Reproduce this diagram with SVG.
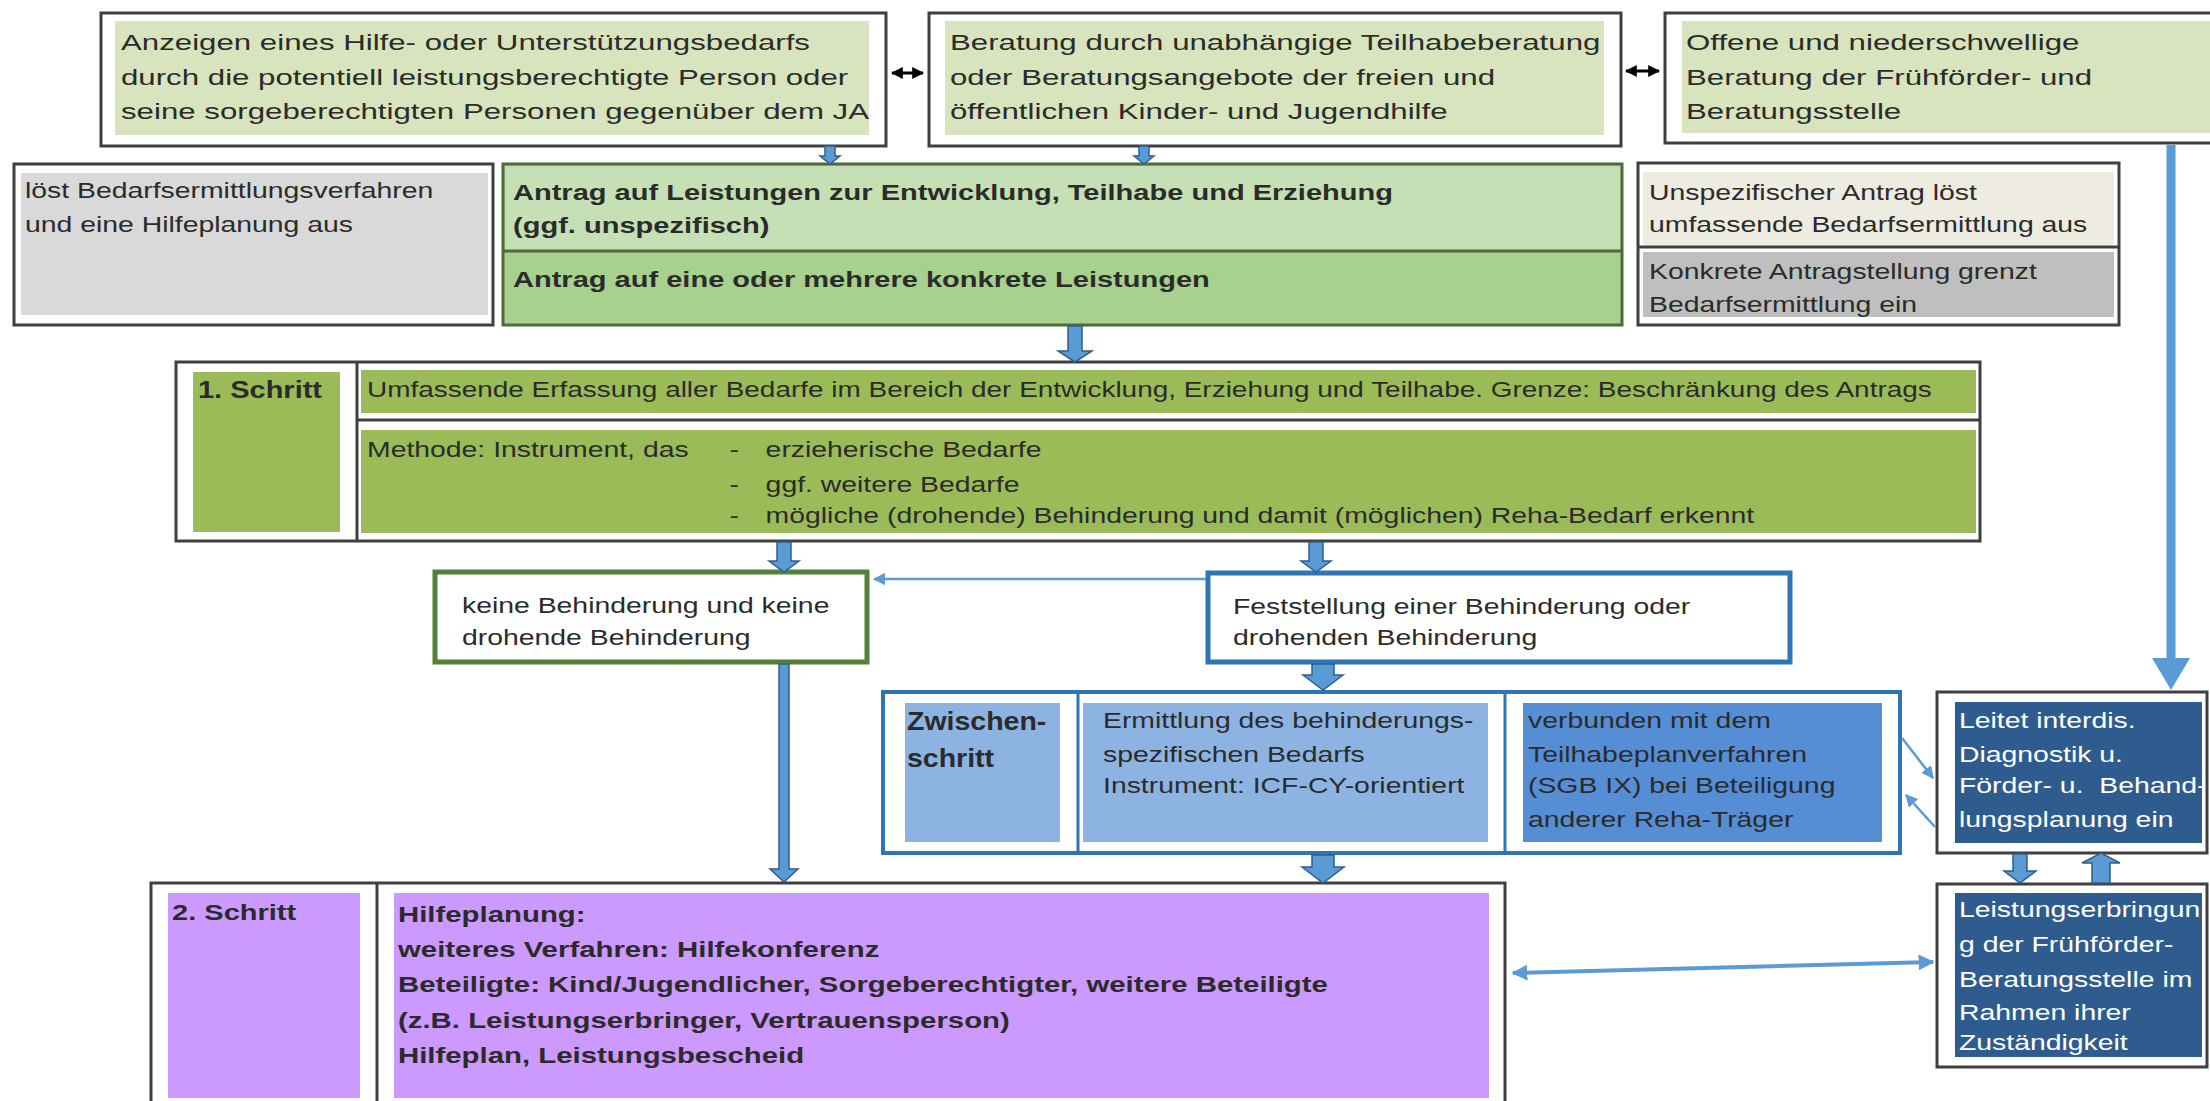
<svg xmlns="http://www.w3.org/2000/svg" width="2210" height="1101" viewBox="0 0 2210 1101">
<defs>
<style>
.t{font-family:"Liberation Sans",Arial,sans-serif;font-size:22px;fill:#2b2b2b}
.b{font-weight:bold}
.w{fill:#ffffff}
.frame{fill:#ffffff;stroke:#3f3f3f;stroke-width:3}
.blk{fill:#5b9bd5;stroke:#2f5f8f;stroke-width:1.5}
.thin{fill:none;stroke:#5b9bd5;stroke-width:2.5}
.lg{fill:#d7e4bd}
.step1{fill:#9bbb59}
.purple{fill:#cc99ff}
</style>
<marker id="ah" viewBox="0 0 10 10" refX="9" refY="5" markerWidth="5" markerHeight="5" orient="auto-start-reverse"><path d="M0,0 L10,5 L0,10 Z" fill="#5b9bd5"/></marker>
<marker id="bh" viewBox="0 0 10 10" refX="9" refY="5" markerWidth="4" markerHeight="4" orient="auto-start-reverse"><path d="M0,0 L10,5 L0,10 Z" fill="#000000"/></marker>
<marker id="ah2" viewBox="0 0 10 10" refX="9" refY="5" markerWidth="4" markerHeight="4" orient="auto-start-reverse"><path d="M0,0 L10,5 L0,10 Z" fill="#5b9bd5"/></marker>
</defs>
<rect width="2210" height="1101" fill="#ffffff"/>

<g id="anzeigen">
<rect class="frame" x="101" y="13" width="785" height="133"/>
<rect class="lg" x="115" y="21" width="754" height="114"/>
<g transform="translate(121,0) scale(1.42,1)">
<text class="t" x="0" y="50">Anzeigen eines Hilfe- oder Unterstützungsbedarfs</text>
<text class="t" x="0" y="85">durch die potentiell leistungsberechtigte Person oder</text>
<text class="t" x="0" y="119">seine sorgeberechtigten Personen gegenüber dem JA</text>
</g>
</g>

<g id="beratung">
<rect class="frame" x="929" y="13" width="692" height="133"/>
<rect class="lg" x="945" y="21" width="659" height="114"/>
<g transform="translate(950,0) scale(1.42,1)">
<text class="t" x="0" y="50">Beratung durch unabhängige Teilhabeberatung</text>
<text class="t" x="0" y="85">oder Beratungsangebote der freien und</text>
<text class="t" x="0" y="119">öffentlichen Kinder- und Jugendhilfe</text>
</g>
</g>

<g id="offene">
<rect class="frame" x="1665" y="13" width="560" height="130"/>
<rect class="lg" x="1682" y="21" width="540" height="112"/>
<g transform="translate(1686,0) scale(1.42,1)">
<text class="t" x="0" y="50">Offene und niederschwellige</text>
<text class="t" x="0" y="85">Beratung der Frühförder- und</text>
<text class="t" x="0" y="119">Beratungsstelle</text>
</g>
</g>

<g id="loest">
<rect class="frame" x="14" y="164" width="479" height="161"/>
<rect x="21" y="173" width="467" height="142" fill="#d9d9d9"/>
<g transform="translate(25,0) scale(1.29,1)">
<text class="t" x="0" y="198">löst Bedarfsermittlungsverfahren</text>
<text class="t" x="0" y="232">und eine Hilfeplanung aus</text>
</g>
</g>

<g id="antrag">
<rect x="503" y="164" width="1119" height="161" fill="#a9d18e" stroke="#4f6b3c" stroke-width="3"/>
<rect x="505" y="166" width="1115" height="84" fill="#c5e0b4"/>
<line x1="503" y1="251" x2="1622" y2="251" stroke="#4f6b3c" stroke-width="3"/>
<g transform="translate(513,0) scale(1.32,1)">
<text class="t b" x="0" y="200">Antrag auf Leistungen zur Entwicklung, Teilhabe und Erziehung</text>
<text class="t b" x="0" y="233">(ggf. unspezifisch)</text>
<text class="t b" x="0" y="287">Antrag auf eine oder mehrere konkrete Leistungen</text>
</g>
</g>

<g id="unspezifisch">
<rect class="frame" x="1638" y="163" width="481" height="162"/>
<rect x="1643" y="172" width="471" height="73" fill="#eeece1"/>
<line x1="1638" y1="247" x2="2119" y2="247" stroke="#3f3f3f" stroke-width="3"/>
<rect x="1643" y="252" width="471" height="65" fill="#bfbfbf"/>
<g transform="translate(1649,0) scale(1.29,1)">
<text class="t" x="0" y="200">Unspezifischer Antrag löst</text>
<text class="t" x="0" y="232">umfassende Bedarfsermittlung aus</text>
<text class="t" x="0" y="279">Konkrete Antragstellung grenzt</text>
<text class="t" x="0" y="312">Bedarfsermittlung ein</text>
</g>
</g>

<g id="schritt1">
<rect class="frame" x="176" y="362" width="1804" height="179"/>
<line x1="357" y1="362" x2="357" y2="541" stroke="#3f3f3f" stroke-width="3"/>
<rect class="step1" x="193" y="372" width="147" height="160"/>
<rect class="step1" x="361" y="370" width="1615" height="43"/>
<line x1="357" y1="420" x2="1980" y2="420" stroke="#3f3f3f" stroke-width="3"/>
<rect class="step1" x="361" y="430" width="1615" height="103"/>
<g transform="translate(198,0) scale(1.26,1)">
<text class="t b" x="0" y="398" style="font-size:23px">1. Schritt</text>
</g>
<g transform="translate(367,0) scale(1.29,1)">
<text class="t" x="0" y="397" textLength="1213" lengthAdjust="spacingAndGlyphs">Umfassende Erfassung aller Bedarfe im Bereich der Entwicklung, Erziehung und Teilhabe. Grenze: Beschränkung des Antrags</text>
<text class="t" x="0" y="457">Methode: Instrument, das</text>
<text class="t" x="281" y="457">-</text>
<text class="t" x="309" y="457">erzieherische Bedarfe</text>
<text class="t" x="281" y="492">-</text>
<text class="t" x="309" y="492">ggf. weitere Bedarfe</text>
<text class="t" x="281" y="523">-</text>
<text class="t" x="309" y="523">mögliche (drohende) Behinderung und damit (möglichen) Reha-Bedarf erkennt</text>
</g>
</g>

<g id="keine">
<rect x="435" y="572" width="432" height="90" fill="#ffffff" stroke="#538135" stroke-width="5"/>
<g transform="translate(462,0) scale(1.29,1)">
<text class="t" x="0" y="613">keine Behinderung und keine</text>
<text class="t" x="0" y="645">drohende Behinderung</text>
</g>
</g>

<g id="feststellung">
<rect x="1208" y="573" width="582" height="89" fill="#ffffff" stroke="#2e75b6" stroke-width="5"/>
<g transform="translate(1233,0) scale(1.29,1)">
<text class="t" x="0" y="614">Feststellung einer Behinderung oder</text>
<text class="t" x="0" y="645">drohenden Behinderung</text>
</g>
</g>

<g id="zwischenschritt">
<rect x="883" y="692" width="1017" height="161" fill="#ffffff" stroke="#2e75b6" stroke-width="4"/>
<line x1="1078" y1="692" x2="1078" y2="853" stroke="#2e75b6" stroke-width="3"/>
<line x1="1505" y1="692" x2="1505" y2="853" stroke="#2e75b6" stroke-width="3"/>
<rect x="905" y="703" width="155" height="139" fill="#8db3e2"/>
<rect x="1083" y="703" width="405" height="139" fill="#8db3e2"/>
<rect x="1523" y="703" width="359" height="139" fill="#558ed5"/>
<g transform="translate(907,0) scale(1.14,1)">
<text class="t b" x="0" y="730" style="font-size:25px">Zwischen-</text>
<text class="t b" x="0" y="767" style="font-size:25px">schritt</text>
</g>
<g transform="translate(1103,0) scale(1.29,1)">
<text class="t" x="0" y="728">Ermittlung des behinderungs-</text>
<text class="t" x="0" y="762">spezifischen Bedarfs</text>
<text class="t" x="0" y="793">Instrument: ICF-CY-orientiert</text>
</g>
<g transform="translate(1528,0) scale(1.29,1)">
<text class="t" x="0" y="728">verbunden mit dem</text>
<text class="t" x="0" y="762">Teilhabeplanverfahren</text>
<text class="t" x="0" y="793">(SGB IX) bei Beteiligung</text>
<text class="t" x="0" y="827">anderer Reha-Träger</text>
</g>
</g>

<g id="leitet">
<rect class="frame" x="1937" y="692" width="270" height="161"/>
<rect x="1955" y="702" width="247" height="141" fill="#2f5c8f"/>
<g transform="translate(1959,0) scale(1.29,1)">
<text class="t w" x="0" y="728">Leitet interdis.</text>
<text class="t w" x="0" y="762">Diagnostik u.</text>
<text class="t w" x="0" y="793" style="white-space:pre">Förder- u.  Behand-</text>
<text class="t w" x="0" y="827">lungsplanung ein</text>
</g>
</g>

<g id="leistungserbringung">
<rect class="frame" x="1937" y="884" width="270" height="183"/>
<rect x="1955" y="893" width="247" height="164" fill="#2f5c8f"/>
<g transform="translate(1959,0) scale(1.29,1)">
<text class="t w" x="0" y="917">Leistungserbringun</text>
<text class="t w" x="0" y="952">g der Frühförder-</text>
<text class="t w" x="0" y="987">Beratungsstelle im</text>
<text class="t w" x="0" y="1020">Rahmen ihrer</text>
<text class="t w" x="0" y="1050">Zuständigkeit</text>
</g>
</g>

<g id="schritt2">
<rect class="frame" x="151" y="883" width="1354" height="240"/>
<line x1="377" y1="883" x2="377" y2="1101" stroke="#3f3f3f" stroke-width="3"/>
<rect class="purple" x="168" y="893" width="192" height="205"/>
<rect class="purple" x="394" y="893" width="1095" height="205"/>
<g transform="translate(172,0) scale(1.32,1)">
<text class="t b" x="0" y="920">2. Schritt</text>
</g>
<g transform="translate(398,0) scale(1.335,1)">
<text class="t b" x="0" y="922">Hilfeplanung:</text>
<text class="t b" x="0" y="957">weiteres Verfahren: Hilfekonferenz</text>
<text class="t b" x="0" y="992">Beteiligte: Kind/Jugendlicher, Sorgeberechtigter, weitere Beteiligte</text>
<text class="t b" x="0" y="1028">(z.B. Leistungserbringer, Vertrauensperson)</text>
<text class="t b" x="0" y="1063">Hilfeplan, Leistungsbescheid</text>
</g>
</g>

<g id="connectors">
<line x1="892" y1="73" x2="923" y2="73" stroke="#000" stroke-width="3" marker-start="url(#bh)" marker-end="url(#bh)"/>
<line x1="1626" y1="71" x2="1659" y2="71" stroke="#000" stroke-width="3" marker-start="url(#bh)" marker-end="url(#bh)"/>
<path class="blk" d="M825,146 L835,146 L835,156 L840,156 L830,164 L820,156 L825,156 Z"/>
<path class="blk" d="M1139,146 L1149,146 L1149,156 L1154,156 L1144,164 L1134,156 L1139,156 Z"/>
<path class="blk" d="M1068,326 L1082,326 L1082,351 L1092,351 L1075,362 L1058,351 L1068,351 Z"/>
<path class="blk" d="M777,542 L791,542 L791,561 L799,561 L784,572 L769,561 L777,561 Z"/>
<path class="blk" d="M1309,542 L1323,542 L1323,561 L1331,561 L1316,572 L1301,561 L1309,561 Z"/>
<path class="blk" d="M779,664 L789,664 L789,869 L798,869 L784,882 L770,869 L779,869 Z"/>
<path class="blk" d="M1312,664 L1334,664 L1334,675 L1343,675 L1323,690 L1303,675 L1312,675 Z"/>
<path class="blk" d="M1312,855 L1334,855 L1334,867 L1344,867 L1323,883 L1302,867 L1312,867 Z"/>
<path class="blk" d="M2013,854 L2027,854 L2027,871 L2036,871 L2020,883 L2004,871 L2013,871 Z"/>
<path class="blk" d="M2092,883 L2110,883 L2110,863 L2120,863 L2101,853 L2082,863 L2092,863 Z"/>
<line x1="2171" y1="145" x2="2171" y2="660" stroke="#5b9bd5" stroke-width="9"/>
<path d="M2152,658 L2190,658 L2171,690 Z" fill="#5b9bd5"/>
<line class="thin" x1="1206" y1="579" x2="874" y2="579" marker-end="url(#ah)"/>
<line class="thin" x1="1902" y1="738" x2="1933" y2="778" marker-end="url(#ah)"/>
<line class="thin" x1="1935" y1="827" x2="1906" y2="795" marker-end="url(#ah)"/>
<line x1="1513" y1="973" x2="1933" y2="962" stroke="#5b9bd5" stroke-width="4" marker-start="url(#ah2)" marker-end="url(#ah2)"/>
</g>
</svg>
